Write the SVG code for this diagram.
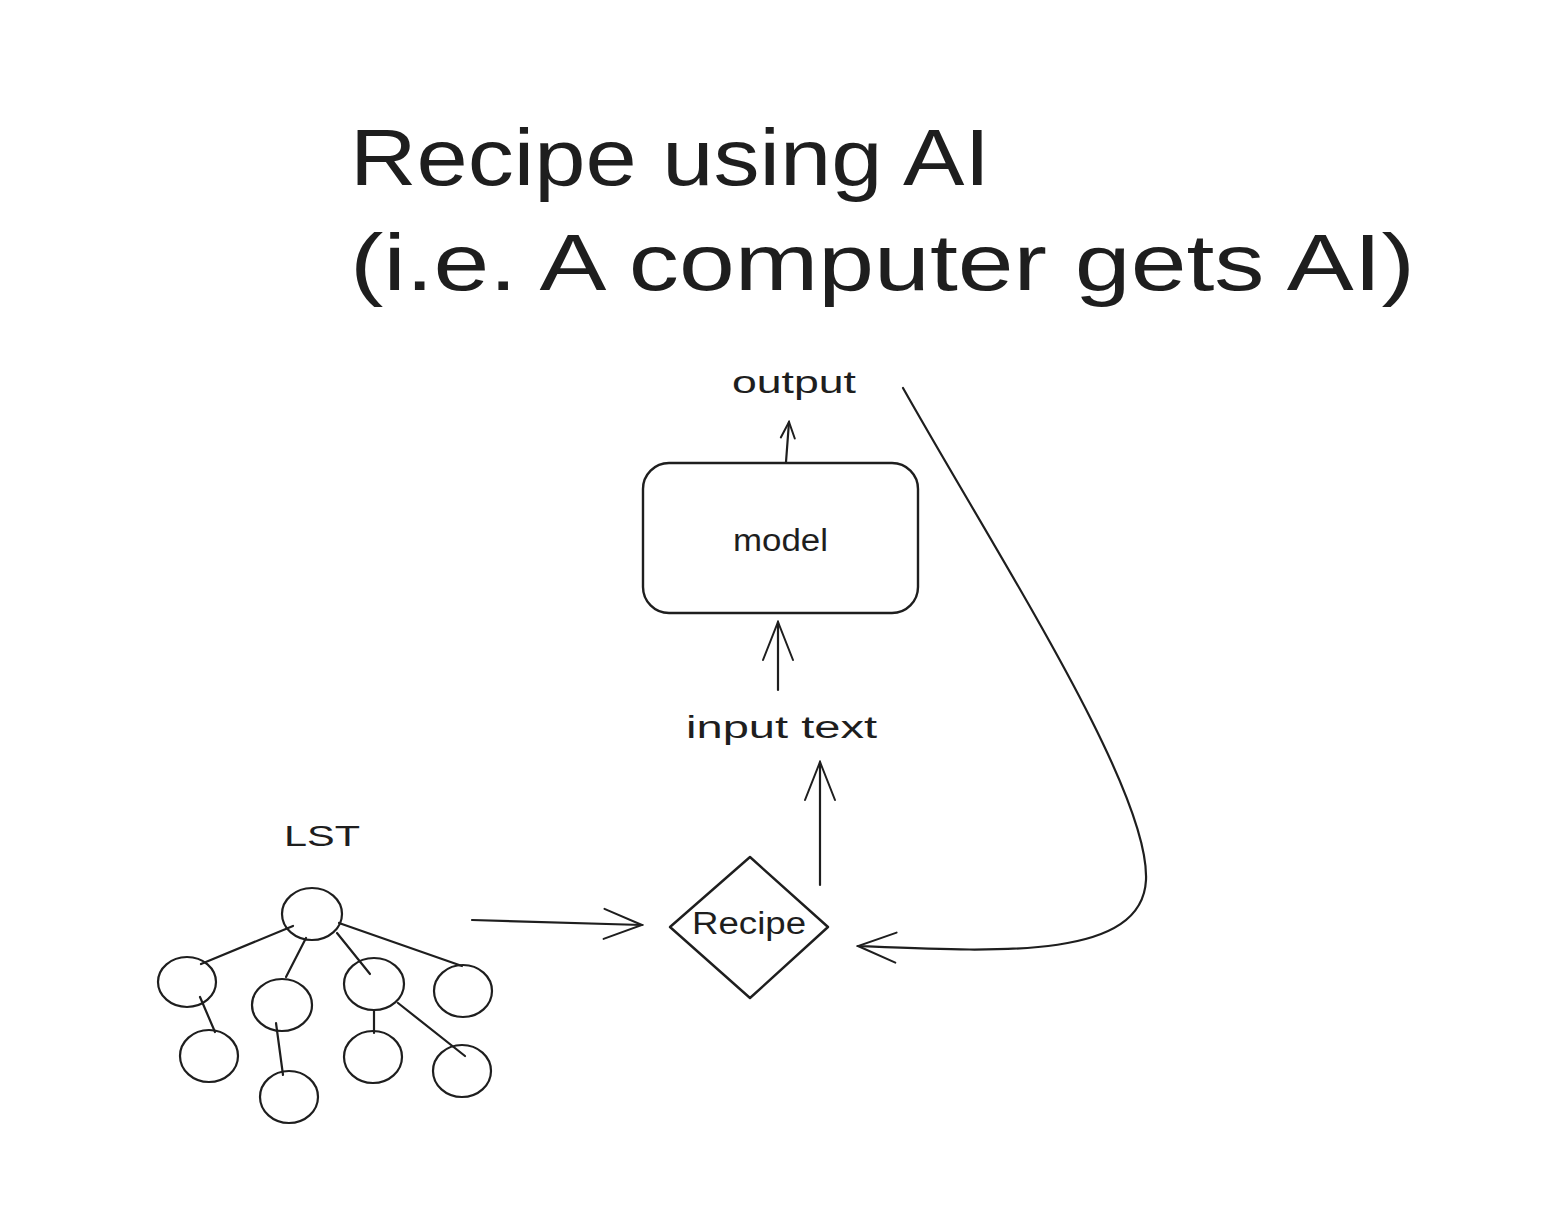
<svg xmlns="http://www.w3.org/2000/svg" width="1564" height="1212" viewBox="0 0 1564 1212">
<style>
.t{font-family:"Liberation Sans",Arial,sans-serif;fill:#1e1e1e}
.s{fill:none;stroke:#1e1e1e;stroke-width:2.2;stroke-linecap:round;stroke-linejoin:round}
.n{fill:#fff;stroke:#1e1e1e;stroke-width:2.4}
</style>
<defs>
<marker id="ah" viewBox="0 0 20 20" refX="18" refY="10" markerWidth="20" markerHeight="20" markerUnits="userSpaceOnUse" orient="auto">
<path d="M2,3 L18,10 L2,17" fill="none" stroke="#1e1e1e" stroke-width="2" stroke-linecap="round"/>
</marker>
<marker id="ahL" viewBox="0 0 44 44" refX="42" refY="22" markerWidth="44" markerHeight="44" markerUnits="userSpaceOnUse" orient="auto">
<path d="M4,7 L42,22 L4,37" fill="none" stroke="#1e1e1e" stroke-width="2" stroke-linecap="round"/>
</marker>
</defs>
<rect width="1564" height="1212" fill="#fff"/>
<g id="title">
<text class="t" x="350" y="185" font-size="80" textLength="640" lengthAdjust="spacingAndGlyphs">Recipe using AI</text>
<text class="t" x="350" y="290" font-size="80" textLength="1065" lengthAdjust="spacingAndGlyphs">(i.e. A computer gets AI)</text>
</g>
<g id="connectors">
<path class="s" d="M786,462 L789,422" marker-end="url(#ah)"/>
<path class="s" d="M778,690 L778,622" marker-end="url(#ahL)"/>
<path class="s" d="M820,885 L820,762" marker-end="url(#ahL)"/>
<path class="s" d="M472,920 L642,925" marker-end="url(#ahL)"/>
<path class="s" d="M903,388 C1000,560 1150,790 1146,880 C1142,960 1000,952 858,946" marker-end="url(#ahL)"/>
</g>
<g id="model">
<rect class="n" x="643" y="463" width="275" height="150" rx="26"/>
<text class="t" x="733" y="551" font-size="31" textLength="95" lengthAdjust="spacingAndGlyphs">model</text>
</g>
<g id="output"><text class="t" x="732" y="393" font-size="31" textLength="124" lengthAdjust="spacingAndGlyphs">output</text></g>
<g id="input-text"><text class="t" x="686" y="738" font-size="31" textLength="191" lengthAdjust="spacingAndGlyphs">input text</text></g>
<g id="recipe">
<path class="n" d="M750,857 L828,927 L750,998 L670,927 Z" stroke-linejoin="round"/>
<text class="t" x="692" y="934" font-size="31" textLength="114" lengthAdjust="spacingAndGlyphs">Recipe</text>
</g>
<g id="lst-label"><text class="t" x="284" y="846" font-size="30" textLength="76" lengthAdjust="spacingAndGlyphs">LST</text></g>
<g id="lst-tree">
<g class="s">
<line x1="293" y1="926" x2="201" y2="964"/>
<line x1="306" y1="938" x2="286" y2="977"/>
<line x1="337" y1="933" x2="370" y2="974"/>
<line x1="339" y1="923" x2="462" y2="966"/>
<line x1="200" y1="997" x2="215" y2="1032"/>
<line x1="276" y1="1023" x2="283" y2="1075"/>
<line x1="374" y1="1010" x2="374" y2="1033"/>
<line x1="398" y1="1003" x2="465" y2="1056"/>
</g>
<g class="s">
<ellipse cx="312" cy="914" rx="30" ry="26"/>
<ellipse cx="187" cy="982" rx="29" ry="25"/>
<ellipse cx="282" cy="1005" rx="30" ry="26"/>
<ellipse cx="374" cy="984" rx="30" ry="26"/>
<ellipse cx="463" cy="991" rx="29" ry="26"/>
<ellipse cx="209" cy="1056" rx="29" ry="26"/>
<ellipse cx="289" cy="1097" rx="29" ry="26"/>
<ellipse cx="373" cy="1057" rx="29" ry="26"/>
<ellipse cx="462" cy="1071" rx="29" ry="26"/>
</g>
</g>
</svg>
